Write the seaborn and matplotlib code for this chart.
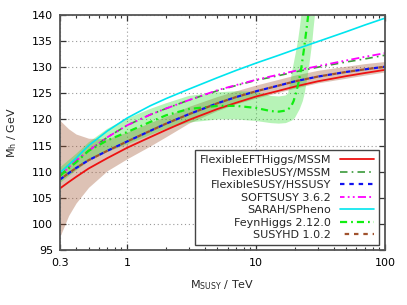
import numpy as np
import matplotlib
matplotlib.use("Agg")
import matplotlib.pyplot as plt
import seaborn as sns
from matplotlib.ticker import LogLocator, NullFormatter, FixedLocator

# M_SUSY in TeV
msusy = [0.3, 0.35, 0.4, 0.5, 0.7, 1, 1.5, 2, 3, 5, 7, 10, 15, 20, 30, 50, 70, 100]

# Higgs mass predictions in GeV
feft = [106.8, 108.0, 109.0, 110.6, 112.6, 114.6, 116.6, 118.0, 119.9, 122.0, 123.2, 124.4,
        125.5, 126.3, 127.3, 128.3, 128.9, 129.5]
softsusy = [109.2, 110.8, 112.1, 114.0, 116.6, 118.9, 120.9, 122.1, 123.7, 125.6, 126.6, 127.6,
            128.6, 129.3, 130.2, 131.3, 132.0, 132.7]
fs_mssm = [109.2, 110.8, 112.1, 114.0, 116.6, 118.9, 120.9, 122.1, 123.7, 125.5, 126.5, 127.5,
           128.4, 129.1, 130.0, 131.0, 131.6, 132.3]
sarah = [109.8, 111.3, 112.6, 115.0, 117.8, 120.3, 122.6, 124.0, 125.8, 128.0, 129.4, 130.8,
         132.3, 133.4, 134.9, 136.8, 138.1, 139.4]
susyhd = [108.5, 109.7, 110.7, 112.2, 114.0, 115.8, 117.8, 119.2, 121.0, 123.1, 124.3, 125.4,
          126.5, 127.3, 128.2, 129.1, 129.6, 130.1]
hssusy = [108.5, 109.7, 110.7, 112.2, 114.0, 115.8, 117.8, 119.2, 121.0, 123.1, 124.3, 125.4,
          126.5, 127.3, 128.2, 129.1, 129.6, 130.1]
susyhd_lo = [97.6, 101.6, 104.0, 107.0, 110.2, 112.5, 114.9, 116.7, 119.3, 121.7, 123.0, 124.1,
             125.2, 126.0, 127.0, 127.9, 128.5, 129.1]
susyhd_hi = [119.8, 118.2, 117.2, 116.4, 116.3, 117.6, 119.4, 120.6, 122.5, 124.4, 125.5, 126.6,
             127.7, 128.5, 129.4, 130.2, 130.7, 131.1]

# FeynHiggs (own x points, curve turns up sharply near 20 TeV)
fh_x = [0.3, 0.35, 0.4, 0.5, 0.7, 1, 1.5, 2, 3, 5, 7, 10, 13, 15, 17, 18.5, 19.5, 20.5,
        21.5, 22.5, 23.5, 24.5, 25.5]
fh_y = [109.2, 110.6, 111.8, 114.0, 116.0, 117.6, 119.5, 120.8, 122.0, 122.6, 122.6, 122.2,
        121.6, 121.5, 121.7, 122.3, 123.5, 125.3, 127.5, 130.2, 133.5, 137.0, 140.5]
fh_hi_x = [0.3, 0.35, 0.4, 0.5, 0.7, 1, 1.5, 2, 3, 5, 7, 10, 13, 15, 17, 17.7, 18.5, 19.3,
           20.2, 21.1, 21.8, 22.4, 23]
fh_hi = [110.8, 112.2, 113.4, 115.6, 118.2, 120.2, 122.0, 123.1, 124.5, 125.2, 125.4, 125.3,
         124.5, 124.4, 124.6, 125.0, 127.5, 130.0, 132.5, 135.0, 137.5, 140.0, 142.0]
fh_lo_x = [0.3, 0.35, 0.4, 0.5, 0.7, 1, 1.5, 2, 3, 5, 7, 10, 13, 15, 17, 19, 20, 21.8, 23,
           23.8, 24.8, 25.7, 26.5, 27.3, 27.9, 28.6, 29.3]
fh_lo = [107.8, 109.1, 110.2, 112.0, 113.8, 115.2, 117.0, 118.2, 119.4, 120.0, 120.0, 119.7,
         119.3, 119.2, 119.3, 119.8, 120.3, 122.0, 123.5, 125.0, 127.5, 130.0, 132.5, 135.0,
         137.5, 140.0, 142.0]

labels = ["FlexibleEFTHiggs/MSSM", "FlexibleSUSY/MSSM", "FlexibleSUSY/HSSUSY",
          "SOFTSUSY 3.6.2", "SARAH/SPheno", "FeynHiggs 2.12.0", "SUSYHD 1.0.2"]

sns.set_style("ticks")
plt.rcParams["font.family"] = ["DejaVu Sans"]
plt.rcParams["font.size"] = 8

fig = plt.figure(figsize=(4.07, 3.05), dpi=100)
ax = fig.add_axes([0.1474, 0.1803, 0.7986, 0.7705])

# uncertainty bands
ax.fill_between(msusy, susyhd_lo, susyhd_hi, color="sienna", alpha=0.35, lw=0)
ax.fill(fh_hi_x + fh_lo_x[::-1], fh_hi + fh_lo[::-1], color="#33dd33", alpha=0.35, lw=0)

sns.lineplot(x=msusy, y=feft, ax=ax, color="#ee1111", lw=1.3, label=labels[0])
sns.lineplot(x=msusy, y=fs_mssm, ax=ax, color="#3a9a3a", lw=1.2,
             linestyle=(0, (4.5, 2.5, 1, 2.5)), label=labels[1])
sns.lineplot(x=msusy, y=hssusy, ax=ax, color="#1111ee", lw=1.6,
             linestyle=(0, (2, 2.2)), label=labels[2])
sns.lineplot(x=msusy, y=softsusy, ax=ax, color="#ff00ff", lw=1.3,
             linestyle=(2, (4.5, 1.8, 1, 1.8, 1, 1.8)), label=labels[3])
sns.lineplot(x=msusy, y=sarah, ax=ax, color="#00e5ee", lw=1.2, label=labels[4])
sns.lineplot(x=fh_x, y=fh_y, ax=ax, color="#11ee11", lw=1.6, sort=False,
             linestyle=(0, (3.2, 1.8, 0.8, 1.8)), label=labels[5])
sns.lineplot(x=msusy, y=susyhd, ax=ax, color="#a0522d", lw=1.6,
             linestyle=(2.1, (2, 2.2)), label=labels[6])

ax.set_xscale("log")
ax.set_xlim(0.3, 100)
ax.set_ylim(95, 140)
ax.xaxis.set_major_locator(FixedLocator([0.3, 1, 10, 100]))
ax.set_xticklabels(["0.3", "1", "10", "100"])
ax.xaxis.set_minor_locator(LogLocator(base=10, subs=np.arange(2, 10)))
ax.xaxis.set_minor_formatter(NullFormatter())
ax.set_yticks(np.arange(95, 141, 5))

ax.tick_params(which="both", direction="in", top=True, right=True, colors="#333333",
               labelcolor="black")
ax.tick_params(axis="x", pad=6)
ax.tick_params(axis="y", pad=5)
ax.tick_params(which="major", length=4, width=0.9)
ax.tick_params(which="minor", length=2.5, width=0.8)
for s in ax.spines.values():
    s.set_color("#555555")
    s.set_linewidth(1.3)

ax.grid(True, which="major", color="#999999", linestyle=(0, (1, 2.5)), linewidth=0.8)

ax.set_xlabel(r"M$_\mathregular{SUSY}$ / TeV", labelpad=7)
ax.set_ylabel(r"M$_\mathregular{h}$ / GeV", labelpad=9)

leg = ax.legend(loc="lower right", markerfirst=False, handlelength=3.1, handletextpad=0.75,
                labelspacing=0.22, fancybox=False, framealpha=1, edgecolor="#444444",
                borderpad=0.45, borderaxespad=0, bbox_to_anchor=(0.9815, 0.0213))
leg.get_frame().set_linewidth(1.0)

fig.savefig("out.png", dpi=100)
